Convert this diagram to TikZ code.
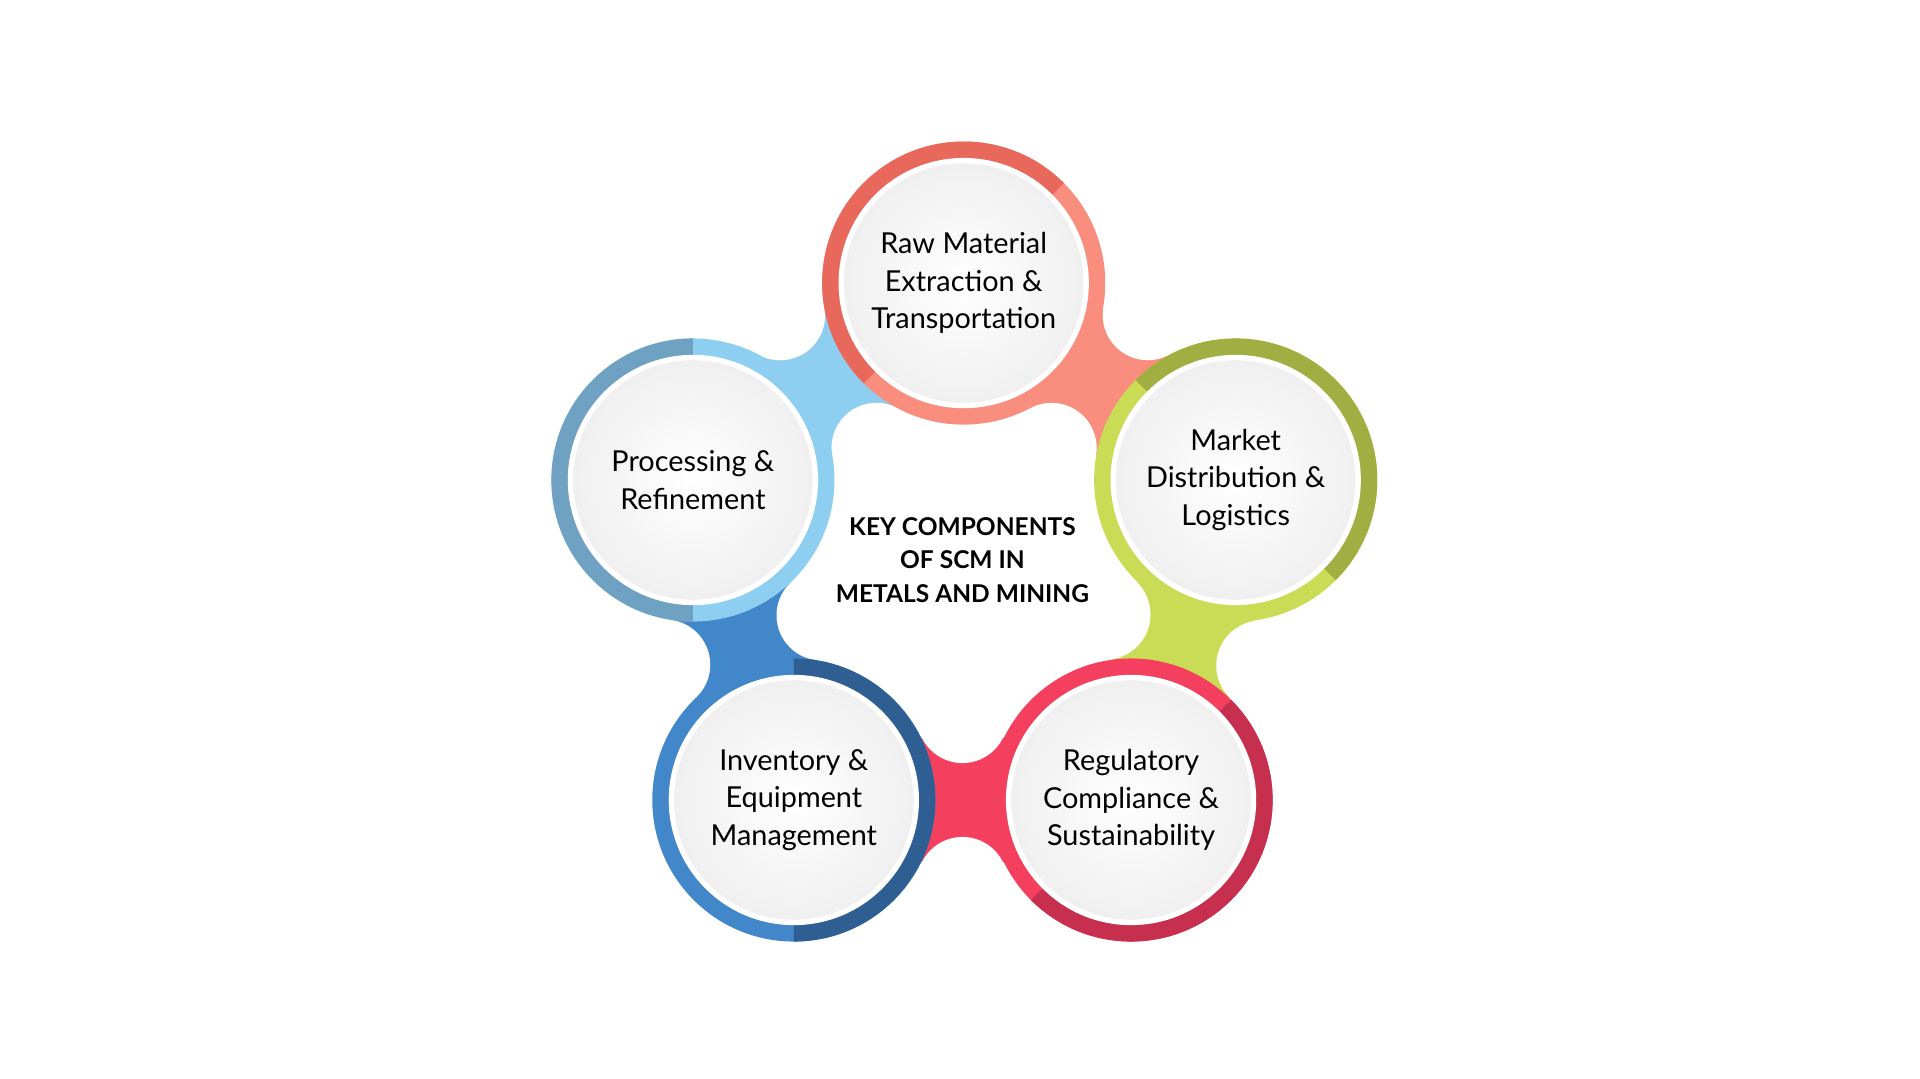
\documentclass[tikz,border=0pt]{standalone}
\usepackage{fontspec}
\setmainfont{Lato}
\usetikzlibrary{calc}
\definecolor{cT}{HTML}{F98E7E}\definecolor{cTd}{HTML}{E8685C}
\definecolor{cR}{HTML}{CADB55}\definecolor{cRd}{HTML}{A0AE42}
\definecolor{cB}{HTML}{F43F5E}\definecolor{cBd}{HTML}{C6304E}
\definecolor{cL}{HTML}{4287C9}\definecolor{cLd}{HTML}{2F5F92}
\definecolor{cP}{HTML}{8ECFF1}\definecolor{cPd}{HTML}{6FA2C2}
\tikzset{lbl/.style={align=center,font=\fontsize{20}{26}\selectfont,text=black},
 ctr/.style={align=center,font=\bfseries\fontsize{17}{23}\selectfont}}
\newcommand{\bridge}[3]{%
 \fill[#3] ($(#1)!1.5cm!90:(#2)$) -- ($(#1)!1.5cm!-90:(#2)$) -- ($(#2)!1.5cm!90:(#1)$) -- ($(#2)!1.5cm!-90:(#1)$) -- cycle;
 \coordinate (m) at ($(#1)!0.5!(#2)$);
 \fill[white] ($(m)!2.0cm!90:(#2)$) circle (1.1cm);
 \fill[white] ($(m)!2.0cm!-90:(#2)$) circle (1.1cm);}
\newcommand{\ringc}[4]{%
 \fill[#2] (#1) circle (3.45cm);
 \fill[#3] (#1) -- ++(#4:3.45cm) arc[start angle=#4,delta angle=180,radius=3.45cm] -- cycle;
 \fill[white] (#1) circle (3.05cm);
 \shade[inner color=white,outer color=black!6] (#1) circle (2.92cm);}
\begin{document}
\begin{tikzpicture}[x=0.03cm,y=-0.03cm]
\useasboundingbox (0,0) rectangle (1560,876);
\coordinate (T) at (783,230);
\coordinate (R) at (1004,390);
\coordinate (B) at (919,650);
\coordinate (L) at (645,650);
\coordinate (P) at (563,390);
\bridge{P}{T}{cP}
\bridge{T}{R}{cT}
\bridge{R}{B}{cR}
\bridge{B}{L}{cB}
\bridge{L}{P}{cL}
\ringc{T}{cT}{cTd}{45}
\ringc{R}{cR}{cRd}{-45}
\ringc{B}{cB}{cBd}{-135}
\ringc{L}{cL}{cLd}{-90}
\ringc{P}{cP}{cPd}{90}
\node[lbl] (nT) at (T) {Raw Material\\Extraction \&\\Transportation};
\node[lbl] (nR) at (R) {Market\\Distribution \&\\Logistics};
\node[lbl] (nB) at (B) {Regulatory\\Compliance \&\\Sustainability};
\node[lbl] (nL) at (L) {Inventory \&\\Equipment\\Management};
\node[lbl] (nP) at (P) {Processing \&\\Refinement};
\node[ctr] (c) at (782,455) {KEY COMPONENTS\\OF SCM IN\\METALS AND MINING};
\end{tikzpicture}
\end{document}
